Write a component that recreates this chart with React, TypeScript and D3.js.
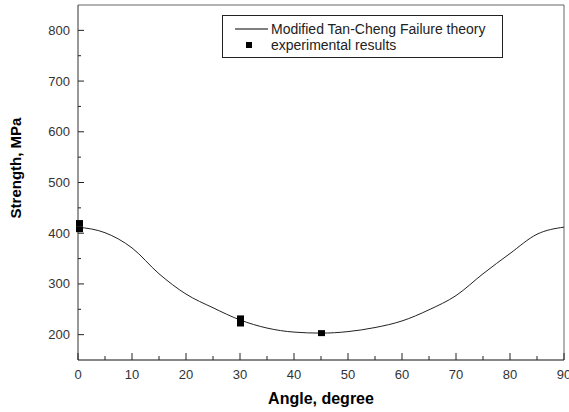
import React from "react";
import * as d3 from "d3";

// theory curve, read every 5 degrees
const curveAngles = [0, 5, 10, 15, 20, 25, 30, 35, 40, 45, 50, 55, 60, 65, 70, 75, 80, 85, 90];
const curveStrength = [412, 401, 371, 320, 280, 253, 229, 213, 205, 203, 206, 214, 227, 249, 277, 320, 360, 398, 412];

// experimental results
const expAngles = [0, 0, 30, 30, 45];
const expStrength = [420, 408, 232, 222, 203];

const xTicks = [0, 10, 20, 30, 40, 50, 60, 70, 80, 90];
const yTicks = [200, 300, 400, 500, 600, 700, 800];

const width = 569;
const height = 412;
const marginLeft = 78;
const marginRight = 5;
const marginTop = 5;
const marginBottom = 52;

const font = "Arial, 'Liberation Sans', sans-serif";

export default function App() {
  const x = d3.scaleLinear().domain([0, 90]).range([marginLeft, width - marginRight]);
  const y = d3.scaleLinear().domain([150, 850]).range([height - marginBottom, marginTop]);

  const line = d3
    .line<number>()
    .x((d, i) => x(curveAngles[i]))
    .y((d) => y(d))
    .curve(d3.curveMonotoneX);

  const x0 = x(0);
  const x1 = x(90);
  const y0 = y(150);
  const y1 = y(850);

  const xMinor = d3.range(5, 90, 10);
  const yMinor = d3.range(250, 850, 100);
  const sq = 6;

  return (
    <svg
      width={width}
      height={height}
      style={{ position: "absolute", left: 0, top: 0, background: "#fff" }}
    >
      {/* frame */}
      <line x1={x0} x2={x1} y1={y1} y2={y1} stroke="#666" />
      <line x1={x1} x2={x1} y1={y1} y2={y0} stroke="#666" />
      <line x1={x0} x2={x0} y1={y1} y2={y0} stroke="#333" />
      <line x1={x0} x2={x1} y1={y0} y2={y0} stroke="#111" />

      {/* x ticks */}
      {xTicks.map((t) => (
        <g key={"xt" + t}>
          <line x1={x(t)} x2={x(t)} y1={y0} y2={y0 - 7} stroke="#222" />
          <text
            x={x(t)}
            y={y0 + 19}
            textAnchor="middle"
            fontFamily={font}
            fontSize={13}
            fill="#333"
          >
            {t}
          </text>
        </g>
      ))}
      {xMinor.map((t) => (
        <line key={"xm" + t} x1={x(t)} x2={x(t)} y1={y0} y2={y0 - 4} stroke="#222" />
      ))}

      {/* y ticks */}
      {yTicks.map((t) => (
        <g key={"yt" + t}>
          <line x1={x0} x2={x0 + 6} y1={y(t)} y2={y(t)} stroke="#222" />
          <text
            x={x0 - 8}
            y={y(t) + 4.5}
            textAnchor="end"
            fontFamily={font}
            fontSize={13}
            fill="#333"
          >
            {t}
          </text>
        </g>
      ))}
      {yMinor.map((t) => (
        <line key={"ym" + t} x1={x0} x2={x0 + 3} y1={y(t)} y2={y(t)} stroke="#222" />
      ))}

      {/* theory line */}
      <path d={line(curveStrength) || ""} fill="none" stroke="#222" strokeWidth={1} />

      {/* experimental points */}
      {expStrength.map((v, i) => {
        const cx = Math.max(x(expAngles[i]), x0 + sq / 2 - 2);
        return (
          <rect
            key={"p" + i}
            x={cx - sq / 2}
            y={y(v) - sq / 2}
            width={sq + 1}
            height={sq}
            fill="#000"
          />
        );
      })}

      {/* legend */}
      <rect x={222.5} y={15.5} width={280} height={42} fill="#fff" stroke="#222" />
      <line x1={235} x2={268} y1={29} y2={29} stroke="#000" />
      <text x={271} y={33.5} fontFamily={font} fontSize={14} fill="#222">
        Modified Tan-Cheng Failure theory
      </text>
      <rect x={246} y={42} width={6} height={6} fill="#000" />
      <text x={271} y={49.5} fontFamily={font} fontSize={14} fill="#222">
        experimental results
      </text>

      {/* axis titles */}
      <text
        x={(x0 + x1) / 2}
        y={404}
        textAnchor="middle"
        fontFamily={font}
        fontSize={16}
        fontWeight="bold"
        fill="#000"
      >
        Angle, degree
      </text>
      <text
        transform={`translate(21,168) rotate(-90)`}
        textAnchor="middle"
        fontFamily={font}
        fontSize={15}
        fontWeight="bold"
        fill="#000"
      >
        Strength, MPa
      </text>
    </svg>
  );
}
